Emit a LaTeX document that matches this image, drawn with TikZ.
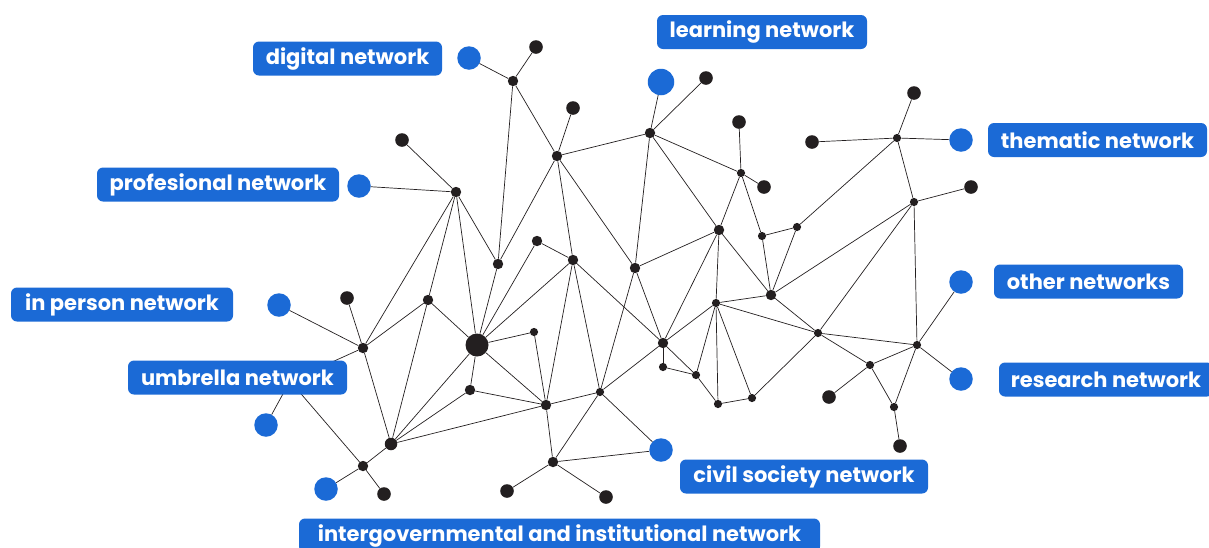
\documentclass[tikz,border=0pt]{standalone}
\usepackage{fontspec}
\setmainfont{Poppins}
\definecolor{nblue}{HTML}{1B6AD6}
\definecolor{ndot}{HTML}{231F20}
\begin{document}
\begin{tikzpicture}[x=1pt,y=-1pt,
 dotL/.style={circle,fill=ndot,inner sep=0pt,minimum size=13.6pt},
 dotM/.style={circle,fill=ndot,inner sep=0pt,minimum size=10.4pt},
 dotS/.style={circle,fill=ndot,inner sep=0pt,minimum size=8.2pt},
 hubdot/.style={circle,fill=ndot,inner sep=0pt,minimum size=23pt},
 bdot/.style={circle,fill=nblue,inner sep=0pt,minimum size=23.5pt},
 lbl/.style={rectangle,fill=nblue,text=white,rounded corners=6pt,minimum height=34pt,inner xsep=0pt,inner ysep=0pt,font=\fontsize{21}{24}\selectfont\bfseries},
 edge/.style={draw=ndot,line width=0.7pt}]
\useasboundingbox (0,0) rectangle (1209,547);
% blue dots
\node[bdot] (B1) at (469,58) {};
\node[bdot,minimum size=26.5pt] (B2) at (661,82) {};
\node[bdot] (B3) at (961,140) {};
\node[bdot] (B4) at (359,186) {};
\node[bdot] (B5) at (279,305) {};
\node[bdot] (B6) at (961,282) {};
\node[bdot] (B7) at (266,425) {};
\node[bdot] (B8) at (961,379) {};
\node[bdot] (B9) at (661,450) {};
\node[bdot] (B10) at (326,489) {};
% black dots
\node[dotL] (a1) at (536,47) {};
\node[dotM] (a2) at (513,81) {};
\node[dotL] (a3) at (573,108) {};
\node[dotM] (a4) at (557,156) {};
\node[dotL] (a5) at (402,140) {};
\node[dotM] (a6) at (456,192) {};
\node[dotM] (a7) at (498,264) {};
\node[dotM] (a8) at (537,241) {};
\node[dotM] (a9) at (573,260) {};
\node[dotL] (b1) at (706,78) {};
\node[dotM] (b2) at (650,133) {};
\node[dotL] (b3) at (739,122) {};
\node[dotS] (b4) at (741,173) {};
\node[dotL] (b5) at (764,187) {};
\node[dotL] (b6) at (812,142) {};
\node[dotS] (b7) at (897,138) {};
\node[dotM] (b8) at (719,230) {};
\node[dotS] (b9) at (762,236) {};
\node[dotS] (b10) at (797,227) {};
\node[dotM] (b11) at (635,268) {};
\node[dotL] (c1) at (914,93) {};
\node[dotL] (c2) at (971,187) {};
\node[dotS] (c3) at (914,202) {};
\node[dotS] (c4) at (818,333) {};
\node[dotS] (c5) at (917,345) {};
\node[dotS] (c6) at (870,365) {};
\node[dotL] (c7) at (829,397) {};
\node[dotS] (c8) at (894,407) {};
\node[dotL] (c9) at (900,446) {};
\node[dotL] (d1) at (347,298) {};
\node[dotM] (d2) at (363,348) {};
\node[dotM] (d3) at (428,300) {};
\node[hubdot] (hub) at (477,345) {};
\node[dotS] (d4) at (534,332) {};
\node[dotM] (d5) at (470,390) {};
\node[dotM] (d6) at (546,405) {};
\node[dotL,minimum size=12.5pt] (d7) at (391,444) {};
\node[dotM] (d8) at (363,466) {};
\node[dotL] (d9) at (384,494) {};
\node[dotL] (d10) at (507,491) {};
\node[dotM] (d11) at (553,462) {};
\node[dotS] (d12) at (600,392) {};
\node[dotM] (e1) at (771,295) {};
\node[dotS] (e2) at (716,303) {};
\node[dotM] (e3) at (663,343) {};
\node[dotS] (e4) at (663,367) {};
\node[dotS] (e5) at (696,375) {};
\node[dotS] (e6) at (718,404) {};
\node[dotS] (e7) at (752,398) {};
\node[dotL] (e8) at (606,497) {};
\coordinate (U) at (290,381);
% edges
\foreach \p/\q in {B1/a2,a2/a1,a2/a7,a2/a4,a4/a3,a4/b2,a4/a7,a4/a9,a4/b11,
 a5/a6,B4/a6,a6/a7,a6/d2,a6/d3,d3/d7,a6/hub,
 b2/B2,b2/b1,b2/b11,b2/b4,b2/b8,
 b3/b4,b4/b5,b4/b8,b4/b9,b9/b10,b10/b7,b6/b7,b7/c1,b7/B3,b7/c3,
 b8/b11,b8/e3,b8/e2,b8/e1,b9/e1,b10/e1,
 c3/c2,c3/e1,c3/c4,c3/c5,
 c4/c5,c4/c6,c5/c6,c5/B6,c5/B8,c5/c8,c6/c7,c6/c8,c8/c9,
 e1/e2,e1/c4,e2/c4,e7/c4,
 B5/d2,d1/d2,d2/U,U/B7,U/d8,d2/d3,d2/d7,
 d3/hub,hub/a7,hub/a8,hub/a9,hub/d4,hub/d5,hub/d6,hub/d7,
 a8/a9,d7/d5,d7/d6,d7/d8,d8/B10,d8/d9,
 d4/d6,d5/d6,d6/a9,d6/d12,d6/d11,
 a9/d12,a9/e3,b11/d12,b11/e3,
 d12/e3,d12/B9,d12/d11,d11/B9,d11/d10,d11/e8,
 e3/e4,e3/e5,e3/e2,e4/e5,e5/e2,e5/e6,e2/e6,e2/e7,e6/e7}
 \draw[edge] (\p) -- (\q);
% labels
\node[lbl,minimum width=189pt] (Ldig) at (347.5,58.5) {digital network};
\node[lbl,minimum width=210pt] (Llea) at (762,32) {learning network};
\node[lbl,minimum width=219pt] (Lthe) at (1097.5,140) {thematic network};
\node[lbl,minimum width=189pt] (Loth) at (1088.5,281.5) {other networks};
\node[lbl,minimum width=214pt] (Lres) at (1106,379.5) {research network};
\node[lbl,minimum width=242pt] (Lpro) at (218,184.5) {profesional network};
\node[lbl,minimum width=222pt] (Lper) at (122,304.5) {in person network};
\node[lbl,minimum width=219pt] (Lumb) at (237.5,377.5) {umbrella network};
\node[lbl,minimum width=521pt] (Lint) at (559.5,535.5) {intergovernmental and institutional network};
\node[lbl,minimum width=248pt] (Lciv) at (804,476.5) {civil society network};
\end{tikzpicture}
\end{document}
